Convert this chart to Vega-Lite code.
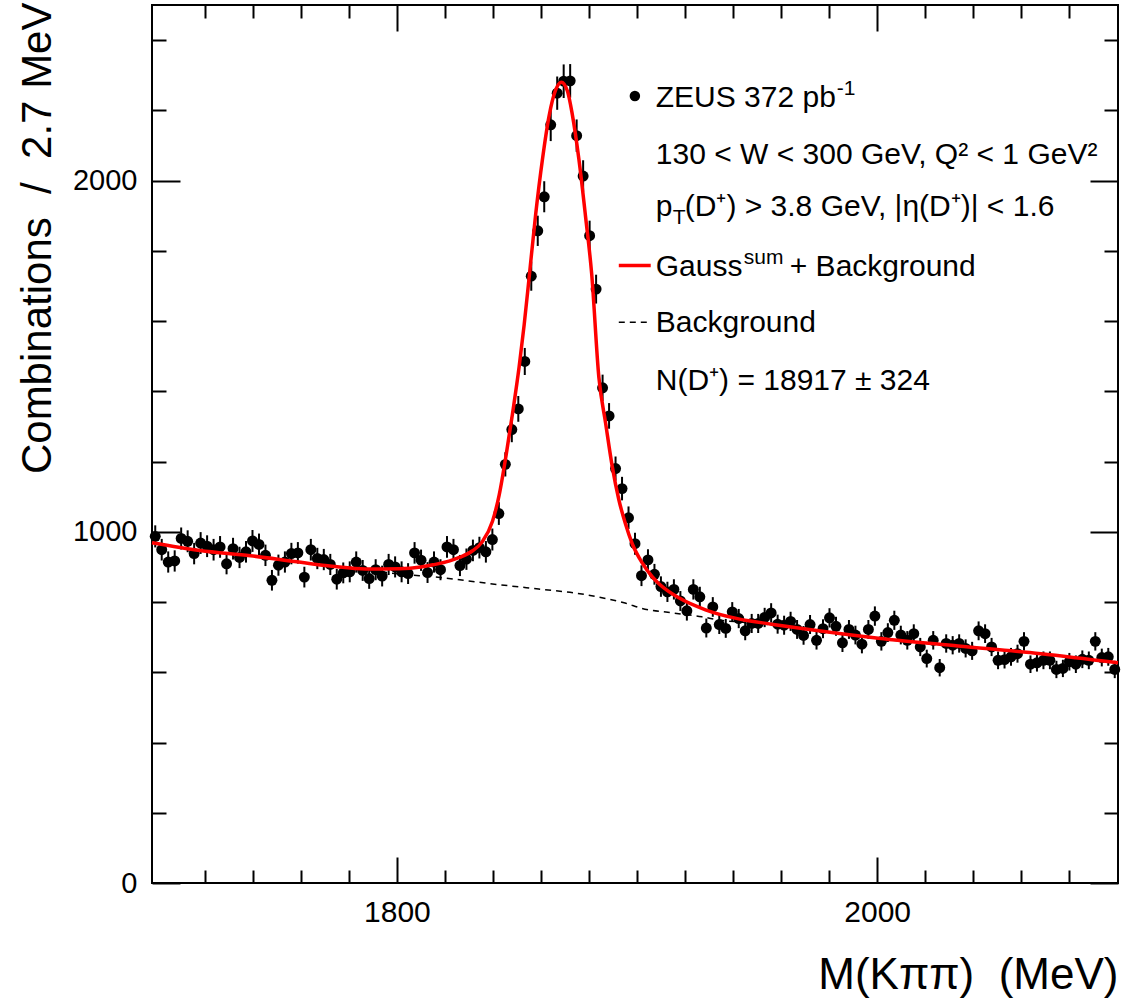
{
  "$schema": "https://vega.github.io/schema/vega-lite/v6.json",
  "width": 966,
  "height": 878,
  "autosize": {"type": "none"},
  "padding": {"left": 152, "top": 5, "right": 14, "bottom": 117},
  "background": "white",
  "config": {
    "font": "Liberation Sans",
    "view": {"stroke": "black", "strokeWidth": 2},
    "axis": {
      "grid": false,
      "domain": false,
      "labelFont": "Liberation Sans",
      "labelColor": "black",
      "titleFont": "Liberation Sans",
      "titleColor": "black",
      "titleFontWeight": "normal",
      "tickColor": "black",
      "tickWidth": 2
    }
  },
  "datasets": {
    "h": [
      {"m":1699.35,"n":987,"e":31.4},{"m":1702.05,"n":949,"e":30.8},{"m":1704.75,"n":914,"e":30.2},{"m":1707.45,"n":917,"e":30.3},
      {"m":1710.15,"n":981,"e":31.3},{"m":1712.85,"n":973,"e":31.2},{"m":1715.55,"n":938,"e":30.6},{"m":1718.25,"n":968,"e":31.1},
      {"m":1720.95,"n":959,"e":31.0},{"m":1723.65,"n":949,"e":30.8},{"m":1726.35,"n":957,"e":30.9},{"m":1729.05,"n":909,"e":30.1},
      {"m":1731.75,"n":952,"e":30.9},{"m":1734.45,"n":927,"e":30.4},{"m":1737.15,"n":943,"e":30.7},{"m":1739.85,"n":974,"e":31.2},
      {"m":1742.55,"n":964,"e":31.0},{"m":1745.25,"n":933,"e":30.5},{"m":1747.95,"n":862,"e":29.4},{"m":1750.65,"n":905,"e":30.1},
      {"m":1753.35,"n":914,"e":30.2},{"m":1756.05,"n":938,"e":30.6},{"m":1758.75,"n":940,"e":30.7},{"m":1761.45,"n":871,"e":29.5},
      {"m":1764.15,"n":949,"e":30.8},{"m":1766.85,"n":924,"e":30.4},{"m":1769.55,"n":921,"e":30.3},{"m":1772.25,"n":907,"e":30.1},
      {"m":1774.95,"n":865,"e":29.4},{"m":1777.65,"n":883,"e":29.7},{"m":1780.35,"n":886,"e":29.8},{"m":1783.05,"n":914,"e":30.2},
      {"m":1785.75,"n":890,"e":29.8},{"m":1788.45,"n":867,"e":29.4},{"m":1791.15,"n":892,"e":29.9},{"m":1793.85,"n":874,"e":29.6},
      {"m":1796.55,"n":907,"e":30.1},{"m":1799.25,"n":900,"e":30.0},{"m":1801.95,"n":886,"e":29.8},{"m":1804.65,"n":881,"e":29.7},
      {"m":1807.35,"n":940,"e":30.7},{"m":1810.05,"n":919,"e":30.3},{"m":1812.75,"n":884,"e":29.7},{"m":1815.45,"n":914,"e":30.2},
      {"m":1818.15,"n":892,"e":29.9},{"m":1820.85,"n":957,"e":30.9},{"m":1823.55,"n":949,"e":30.8},{"m":1826.25,"n":904,"e":30.1},
      {"m":1828.95,"n":922,"e":30.4},{"m":1831.65,"n":947,"e":30.8},{"m":1834.35,"n":955,"e":30.9},{"m":1837.05,"n":943,"e":30.7},
      {"m":1839.75,"n":978,"e":31.3},{"m":1842.45,"n":1052,"e":32.4},{"m":1845.15,"n":1192,"e":34.5},{"m":1847.85,"n":1291,"e":35.9},
      {"m":1850.55,"n":1350,"e":36.7},{"m":1853.25,"n":1485,"e":38.5},{"m":1855.95,"n":1728,"e":41.6},{"m":1858.65,"n":1857,"e":43.1},
      {"m":1861.35,"n":1954,"e":44.2},{"m":1864.05,"n":2159,"e":46.5},{"m":1866.75,"n":2249,"e":47.4},{"m":1869.45,"n":2283,"e":47.8},
      {"m":1872.15,"n":2284,"e":47.8},{"m":1874.85,"n":2128,"e":46.1},{"m":1877.55,"n":2013,"e":44.9},{"m":1880.25,"n":1843,"e":42.9},
      {"m":1882.95,"n":1691,"e":41.1},{"m":1885.65,"n":1410,"e":37.5},{"m":1888.35,"n":1330,"e":36.5},{"m":1891.05,"n":1180,"e":34.4},
      {"m":1893.75,"n":1123,"e":33.5},{"m":1896.45,"n":1040,"e":32.2},{"m":1899.15,"n":966,"e":31.1},{"m":1901.85,"n":875,"e":29.6},
      {"m":1904.55,"n":920,"e":30.3},{"m":1907.25,"n":879,"e":29.6},{"m":1909.95,"n":844,"e":29.1},{"m":1912.65,"n":829,"e":28.8},
      {"m":1915.35,"n":836,"e":28.9},{"m":1918.05,"n":803,"e":28.3},{"m":1920.75,"n":775,"e":27.8},{"m":1923.45,"n":836,"e":28.9},
      {"m":1926.15,"n":815,"e":28.5},{"m":1928.85,"n":726,"e":26.9},{"m":1931.55,"n":786,"e":28.0},{"m":1934.25,"n":736,"e":27.1},
      {"m":1936.95,"n":725,"e":26.9},{"m":1939.65,"n":772,"e":27.8},{"m":1942.35,"n":753,"e":27.4},{"m":1945.05,"n":718,"e":26.8},
      {"m":1947.75,"n":739,"e":27.2},{"m":1950.45,"n":739,"e":27.2},{"m":1953.15,"n":756,"e":27.5},{"m":1955.85,"n":769,"e":27.7},
      {"m":1958.55,"n":737,"e":27.1},{"m":1961.25,"n":734,"e":27.1},{"m":1963.95,"n":745,"e":27.3},{"m":1966.65,"n":722,"e":26.9},
      {"m":1969.35,"n":705,"e":26.6},{"m":1972.05,"n":736,"e":27.1},{"m":1974.75,"n":691,"e":26.3},{"m":1977.45,"n":724,"e":26.9},
      {"m":1980.15,"n":755,"e":27.5},{"m":1982.85,"n":731,"e":27.0},{"m":1985.55,"n":684,"e":26.2},{"m":1988.25,"n":722,"e":26.9},
      {"m":1990.95,"n":706,"e":26.6},{"m":1993.65,"n":680,"e":26.1},{"m":1996.35,"n":722,"e":26.9},{"m":1999.05,"n":760,"e":27.6},
      {"m":2001.75,"n":688,"e":26.2},{"m":2004.45,"n":713,"e":26.7},{"m":2007.15,"n":748,"e":27.3},{"m":2009.85,"n":706,"e":26.6},
      {"m":2012.55,"n":691,"e":26.3},{"m":2015.25,"n":710,"e":26.6},{"m":2017.95,"n":672,"e":25.9},{"m":2020.65,"n":639,"e":25.3},
      {"m":2023.35,"n":691,"e":26.3},{"m":2026.05,"n":613,"e":24.8},{"m":2028.75,"n":682,"e":26.1},{"m":2031.45,"n":677,"e":26.0},
      {"m":2034.15,"n":682,"e":26.1},{"m":2036.85,"n":668,"e":25.8},{"m":2039.55,"n":661,"e":25.7},{"m":2042.25,"n":718,"e":26.8},
      {"m":2044.95,"n":710,"e":26.6},{"m":2047.65,"n":672,"e":25.9},{"m":2050.35,"n":634,"e":25.2},{"m":2053.05,"n":636,"e":25.2},
      {"m":2055.75,"n":644,"e":25.4},{"m":2058.45,"n":653,"e":25.6},{"m":2061.15,"n":688,"e":26.2},{"m":2063.85,"n":623,"e":25.0},
      {"m":2066.55,"n":627,"e":25.0},{"m":2069.25,"n":634,"e":25.2},{"m":2071.95,"n":634,"e":25.2},{"m":2074.65,"n":608,"e":24.7},
      {"m":2077.35,"n":611,"e":24.7},{"m":2080.05,"n":630,"e":25.1},{"m":2082.75,"n":623,"e":25.0},{"m":2085.45,"n":637,"e":25.2},
      {"m":2088.15,"n":634,"e":25.2},{"m":2090.85,"n":688,"e":26.2},{"m":2093.55,"n":642,"e":25.3},{"m":2096.25,"n":644,"e":25.4},
      {"m":2098.95,"n":608,"e":24.7}
    ],
    "fit": [
      {"m":1698,"v":969},{"m":1718,"v":947},{"m":1739,"v":932},{"m":1760,"v":913},{"m":1773,"v":902},{"m":1787,"v":894},
      {"m":1801,"v":895},{"m":1810,"v":900},{"m":1815,"v":906},{"m":1822,"v":917},{"m":1826,"v":927},{"m":1831.5,"v":946},
      {"m":1835.6,"v":972},{"m":1839.8,"v":1030},{"m":1842.6,"v":1105},{"m":1845.4,"v":1215},{"m":1848.1,"v":1335},
      {"m":1850.9,"v":1470},{"m":1853,"v":1590},{"m":1855,"v":1720},{"m":1857.8,"v":1905},{"m":1860.6,"v":2060},
      {"m":1863.4,"v":2185},{"m":1866.1,"v":2258},{"m":1868.5,"v":2280},{"m":1871,"v":2255},{"m":1873,"v":2190},
      {"m":1875.8,"v":2060},{"m":1878.6,"v":1895},{"m":1881.1,"v":1735},{"m":1884.1,"v":1440},{"m":1886.9,"v":1310},
      {"m":1889.7,"v":1185},{"m":1892.4,"v":1092},{"m":1895.2,"v":1022},{"m":1898,"v":966},{"m":1902.1,"v":912},
      {"m":1906.3,"v":872},{"m":1909,"v":853},{"m":1917.4,"v":812},{"m":1928.5,"v":778},{"m":1942.3,"v":752},
      {"m":1956,"v":737},{"m":1967.2,"v":726},{"m":2000.5,"v":697},{"m":2033.7,"v":675},{"m":2068.2,"v":653},{"m":2100.3,"v":627}
    ],
    "bg": [
      {"m":1698,"v":969},{"m":1718,"v":947},{"m":1739,"v":932},{"m":1760,"v":913},{"m":1773,"v":902},{"m":1787,"v":891},
      {"m":1801,"v":880},{"m":1818,"v":870},{"m":1838,"v":853},{"m":1859,"v":837},{"m":1875,"v":825},{"m":1887,"v":810},
      {"m":1895,"v":797},{"m":1902,"v":782},{"m":1915,"v":769},{"m":1927,"v":758},{"m":1934,"v":749},{"m":1945,"v":742},
      {"m":1956,"v":735},{"m":1967.2,"v":725},{"m":2000.5,"v":696},{"m":2033.7,"v":674},{"m":2068.2,"v":652},{"m":2100.3,"v":627}
    ]
  },
  "layer": [
    {
      "data": {"name": "h"},
      "mark": {"type": "errorbar", "color": "black", "thickness": 2},
      "encoding": {
        "x": {"field": "m", "type": "quantitative", "scale": {"domain": [1698, 2100.3], "nice": false, "zero": false}, "axis": null},
        "y": {"field": "n", "type": "quantitative", "scale": {"domain": [0, 2500], "nice": false, "zero": false}, "axis": null},
        "yError": {"field": "e"}
      }
    },
    {
      "data": {"name": "h"},
      "mark": {"type": "circle", "size": 120, "color": "black", "opacity": 1},
      "encoding": {
        "x": {"field": "m", "type": "quantitative", "scale": {"domain": [1698, 2100.3], "nice": false, "zero": false},
          "axis": {"orient": "bottom", "values": [1720,1740,1760,1780,1800,1820,1840,1860,1880,1900,1920,1940,1960,1980,2000,2020,2040,2060,2080],
            "format": "d", "labelExpr": "datum.value % 200 === 0 ? datum.label : ''",
            "tickSize": {"condition": {"test": "datum.value % 200 === 0", "value": -26}, "value": -13},
            "labelPadding": 40, "labelFontSize": 30, "labelFlush": false,
            "title": "M(Kππ) \u00a0(MeV)", "titleFontSize": 44, "titleAlign": "right", "titleAnchor": "end", "titleBaseline": "alphabetic", "titleX": 966, "titleY": 105, "titleAngle": 0}},
        "y": {"field": "n", "type": "quantitative", "scale": {"domain": [0, 2500], "nice": false, "zero": false},
          "axis": {"orient": "left", "values": [0,200,400,600,800,1000,1200,1400,1600,1800,2000,2200,2400],
            "format": "d", "labelExpr": "datum.value % 1000 === 0 ? datum.label : ''",
            "tickSize": {"condition": {"test": "datum.value % 1000 === 0", "value": -28}, "value": -14},
            "labelPadding": 43, "labelFontSize": 29, "labelFlush": false,
            "title": "Combinations \u00a0/ \u00a02.7 MeV", "titleFontSize": 42, "titleAngle": -90, "titleAlign": "right", "titleAnchor": "end", "titleBaseline": "alphabetic", "titleX": -102, "titleY": -3}}
      }
    },
    {
      "data": {"name": "bg"},
      "mark": {"type": "line", "color": "black", "strokeWidth": 1.5, "strokeDash": [6, 5], "interpolate": "monotone"},
      "encoding": {
        "x": {"field": "m", "type": "quantitative", "scale": {"domain": [1698, 2100.3], "nice": false, "zero": false},
          "axis": {"orient": "top", "values": [1720,1740,1760,1780,1800,1820,1840,1860,1880,1900,1920,1940,1960,1980,2000,2020,2040,2060,2080],
            "labels": false, "title": null,
            "tickSize": {"condition": {"test": "datum.value % 200 === 0", "value": -26}, "value": -13}}},
        "y": {"field": "v", "type": "quantitative", "scale": {"domain": [0, 2500], "nice": false, "zero": false},
          "axis": {"orient": "right", "values": [0,200,400,600,800,1000,1200,1400,1600,1800,2000,2200,2400],
            "labels": false, "title": null,
            "tickSize": {"condition": {"test": "datum.value % 1000 === 0", "value": -28}, "value": -14}}}
      }
    },
    {
      "data": {"name": "fit"},
      "mark": {"type": "line", "color": "#ff0000", "strokeWidth": 3.5, "interpolate": "monotone"},
      "encoding": {
        "x": {"field": "m", "type": "quantitative", "scale": {"domain": [1698, 2100.3], "nice": false, "zero": false}, "axis": null},
        "y": {"field": "v", "type": "quantitative", "scale": {"domain": [0, 2500], "nice": false, "zero": false}, "axis": null}
      }
    },
    {
      "data": {"values": [{}]},
      "mark": {"type": "circle", "size": 110, "color": "black", "opacity": 1},
      "encoding": {"x": {"datum": 1899.1, "type": "quantitative", "axis": null}, "y": {"datum": 2241, "type": "quantitative", "axis": null}}
    },
    {
      "data": {"values": [{}]},
      "mark": {"type": "rule", "color": "#ff0000", "strokeWidth": 3.5},
      "encoding": {"x": {"datum": 1892.4, "type": "quantitative", "axis": null}, "x2": {"datum": 1905.7}, "y": {"datum": 1758, "type": "quantitative", "axis": null}}
    },
    {
      "data": {"values": [{}]},
      "mark": {"type": "rule", "color": "black", "strokeWidth": 1.5, "strokeDash": [6, 5]},
      "encoding": {"x": {"datum": 1892.4, "type": "quantitative", "axis": null}, "x2": {"datum": 1905.7}, "y": {"datum": 1597, "type": "quantitative", "axis": null}}
    },
    {
      "data": {"values": [{}]},
      "mark": {"type": "text", "align": "left", "baseline": "alphabetic", "fontSize": 30, "color": "black"},
      "encoding": {"x": {"datum": 1907.8, "type": "quantitative", "axis": null}, "y": {"datum": 2209, "type": "quantitative", "axis": null}, "text": {"value": "ZEUS 372 pb"}}
    },
    {
      "data": {"values": [{}]},
      "mark": {"type": "text", "align": "left", "baseline": "alphabetic", "fontSize": 21, "color": "black", "dx": 181, "dy": -12},
      "encoding": {"x": {"datum": 1907.8, "type": "quantitative", "axis": null}, "y": {"datum": 2209, "type": "quantitative", "axis": null}, "text": {"value": "-1"}}
    },
    {
      "data": {"values": [{}]},
      "mark": {"type": "text", "align": "left", "baseline": "alphabetic", "fontSize": 30, "color": "black"},
      "encoding": {"x": {"datum": 1907.8, "type": "quantitative", "axis": null}, "y": {"datum": 2046, "type": "quantitative", "axis": null}, "text": {"value": "130 < W < 300 GeV, Q² < 1 GeV²"}}
    },
    {
      "data": {"values": [{}]},
      "mark": {"type": "text", "align": "left", "baseline": "alphabetic", "fontSize": 30, "color": "black"},
      "encoding": {"x": {"datum": 1907.8, "type": "quantitative", "axis": null}, "y": {"datum": 1900, "type": "quantitative", "axis": null}, "text": {"value": "p"}}
    },
    {
      "data": {"values": [{}]},
      "mark": {"type": "text", "align": "left", "baseline": "alphabetic", "fontSize": 21, "color": "black", "dx": 17, "dy": 8},
      "encoding": {"x": {"datum": 1907.8, "type": "quantitative", "axis": null}, "y": {"datum": 1900, "type": "quantitative", "axis": null}, "text": {"value": "T"}}
    },
    {
      "data": {"values": [{}]},
      "mark": {"type": "text", "align": "left", "baseline": "alphabetic", "fontSize": 30, "color": "black", "dx": 29},
      "encoding": {"x": {"datum": 1907.8, "type": "quantitative", "axis": null}, "y": {"datum": 1900, "type": "quantitative", "axis": null}, "text": {"value": "(D⁺) > 3.8 GeV, |η(D⁺)| < 1.6"}}
    },
    {
      "data": {"values": [{}]},
      "mark": {"type": "text", "align": "left", "baseline": "alphabetic", "fontSize": 30, "color": "black"},
      "encoding": {"x": {"datum": 1907.8, "type": "quantitative", "axis": null}, "y": {"datum": 1729, "type": "quantitative", "axis": null}, "text": {"value": "Gauss"}}
    },
    {
      "data": {"values": [{}]},
      "mark": {"type": "text", "align": "left", "baseline": "alphabetic", "fontSize": 21, "color": "black", "dx": 88, "dy": -12},
      "encoding": {"x": {"datum": 1907.8, "type": "quantitative", "axis": null}, "y": {"datum": 1729, "type": "quantitative", "axis": null}, "text": {"value": "sum"}}
    },
    {
      "data": {"values": [{}]},
      "mark": {"type": "text", "align": "left", "baseline": "alphabetic", "fontSize": 30, "color": "black", "dx": 134},
      "encoding": {"x": {"datum": 1907.8, "type": "quantitative", "axis": null}, "y": {"datum": 1729, "type": "quantitative", "axis": null}, "text": {"value": "+ Background"}}
    },
    {
      "data": {"values": [{}]},
      "mark": {"type": "text", "align": "left", "baseline": "alphabetic", "fontSize": 30, "color": "black"},
      "encoding": {"x": {"datum": 1907.8, "type": "quantitative", "axis": null}, "y": {"datum": 1570, "type": "quantitative", "axis": null}, "text": {"value": "Background"}}
    },
    {
      "data": {"values": [{}]},
      "mark": {"type": "text", "align": "left", "baseline": "alphabetic", "fontSize": 30, "color": "black"},
      "encoding": {"x": {"datum": 1907.8, "type": "quantitative", "axis": null}, "y": {"datum": 1405, "type": "quantitative", "axis": null}, "text": {"value": "N(D⁺) = 18917 ± 324"}}
    }
  ],
  "resolve": {"axis": {"x": "independent", "y": "independent"}}
}
